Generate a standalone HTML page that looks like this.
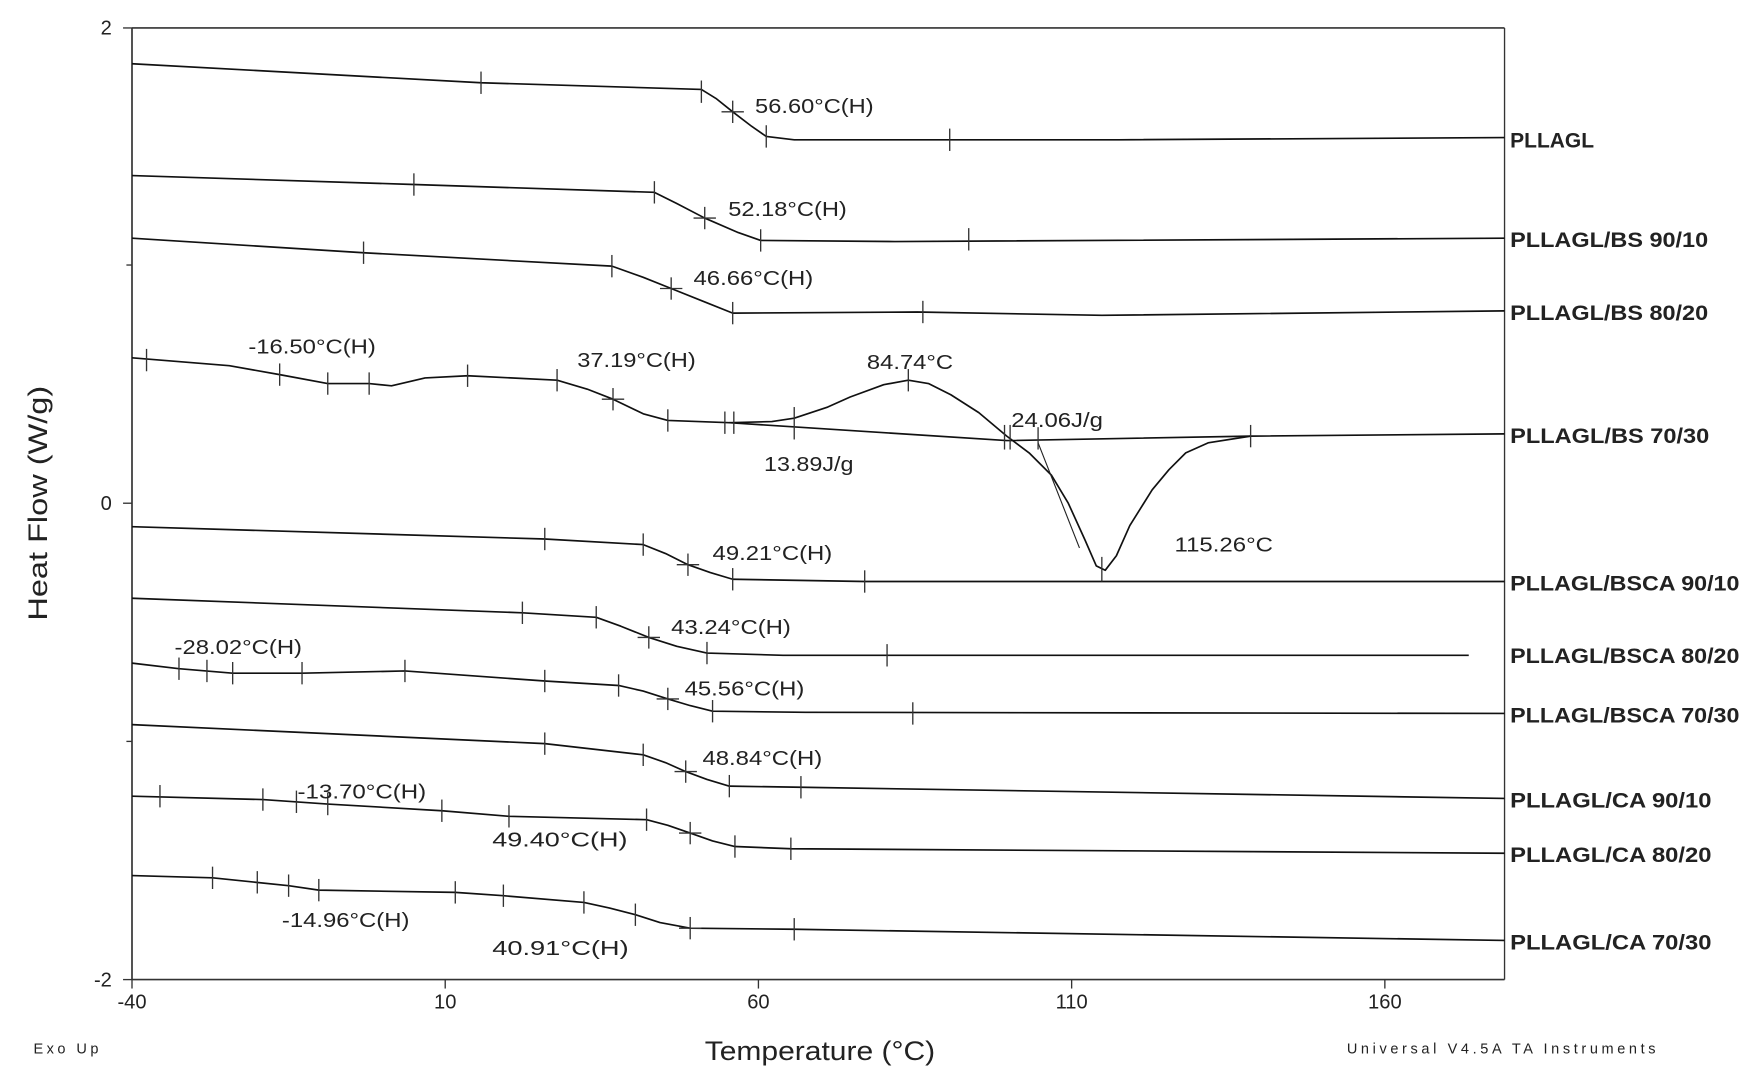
<!DOCTYPE html>
<html><head><meta charset="utf-8"><style>
html,body{margin:0;padding:0;background:#fff;}
svg{display:block;}
text{font-family:"Liberation Sans",Arial,sans-serif;fill:#222;}
.lb{font-weight:bold;font-size:19px;}
.an{font-size:18px;}
.c{fill:none;stroke:#111;stroke-width:1.5;stroke-linejoin:round;}
.t{stroke:#333;stroke-width:1.2;}
</style></head><body>
<svg width="1754" height="1078" viewBox="0 0 1568 964" preserveAspectRatio="none">
<line x1="118" y1="25" x2="1345" y2="25" stroke="#333" stroke-width="1.5"/>
<line x1="118" y1="25" x2="118" y2="876" stroke="#333" stroke-width="1.5"/>
<line x1="118" y1="876" x2="1345" y2="876" stroke="#333" stroke-width="1.5"/>
<line x1="1345" y1="25" x2="1345" y2="876" stroke="#333" stroke-width="1.2"/>
<g stroke="#333" stroke-width="1.2">
<line x1="110" y1="25" x2="118" y2="25"/><line x1="113" y1="237" x2="118" y2="237"/>
<line x1="110" y1="450" x2="118" y2="450"/><line x1="113" y1="663" x2="118" y2="663"/>
<line x1="110" y1="876" x2="118" y2="876"/>
<line x1="118" y1="876" x2="118" y2="884"/><line x1="398" y1="876" x2="398" y2="884"/>
<line x1="678" y1="876" x2="678" y2="884"/><line x1="958" y1="876" x2="958" y2="884"/>
<line x1="1238" y1="876" x2="1238" y2="884"/>
</g>
<g font-size="18">
<text x="100" y="31" text-anchor="end">2</text>
<text x="100" y="456" text-anchor="end">0</text>
<text x="100" y="882" text-anchor="end">-2</text>
<text x="118" y="902" text-anchor="middle">-40</text>
<text x="398" y="902" text-anchor="middle">10</text>
<text x="678" y="902" text-anchor="middle">60</text>
<text x="958" y="902" text-anchor="middle">110</text>
<text x="1238" y="902" text-anchor="middle">160</text>
</g>
<text x="630" y="948" font-size="24" textLength="206" lengthAdjust="spacingAndGlyphs">Temperature (°C)</text>
<text transform="translate(42,555) rotate(-90)" font-size="24" textLength="210" lengthAdjust="spacingAndGlyphs">Heat Flow (W/g)</text>
<text x="30" y="942" font-size="13" textLength="58" lengthAdjust="spacing">Exo Up</text>
<text x="1204" y="942" font-size="13" textLength="276" lengthAdjust="spacing">Universal V4.5A TA Instruments</text>

<polyline class="c" points="118,57 430,74 627,80 640,88 655,100 672,113 685,122 710,125 1000,125 1345,123"/>
<polyline class="c" points="118,157 370,165 585,172 605,182 630,195 660,208 680,215 800,216 1345,213"/>
<polyline class="c" points="118,213 325,226 547,238 575,248 600,258 630,270 655,280 820,279 985,282 1345,278"/>
<polyline class="c" points="118,320 205,327 250,335 293,343 330,343 350,345 380,338 418,336 498,340 525,348 548,357 575,370 597,376 652,378 690,377 710,374 740,364 760,355 790,344 812,340 830,343 850,353 875,369 900,390 920,405 940,425 955,450 970,483 980,506 988,510 998,497 1010,470 1030,438 1045,420 1060,405 1080,396 1118,390 1345,388"/>
<polyline class="c" points="652,378 900,394 1118,390" stroke="#444" stroke-width="1"/>
<line x1="928" y1="396" x2="965" y2="490" stroke="#222" stroke-width="1"/>
<polyline class="c" points="118,471 487,482 575,487 595,495 615,505 635,512 655,518 773,520 1345,520"/>
<polyline class="c" points="118,535 467,548 533,552 555,560 580,570 605,578 632,584 700,586 1313,586"/>
<polyline class="c" points="118,593 160,598 208,602 270,602 362,600 487,609 553,613 575,618 597,625 617,631 637,636 720,637 1345,638"/>
<polyline class="c" points="118,648 487,665 575,675 595,682 613,690 632,697 652,703 716,704 1345,714"/>
<polyline class="c" points="118,712 235,715 293,719 395,725 455,730 578,733 597,738 617,745 637,752 657,757 707,759 1345,763"/>
<polyline class="c" points="118,783 190,785 258,792 285,796 407,798 450,801 522,807 545,812 568,818 590,825 617,830 710,831 1345,841"/>

<g class="t">
<line x1="430" y1="64" x2="430" y2="84"/><line x1="627" y1="72" x2="627" y2="92"/><line x1="655" y1="90" x2="655" y2="110"/><line x1="645" y1="100" x2="665" y2="100"/><line x1="685" y1="112" x2="685" y2="132"/><line x1="849" y1="115" x2="849" y2="135"/>
<line x1="370" y1="155" x2="370" y2="175"/><line x1="585" y1="162" x2="585" y2="182"/><line x1="630" y1="185" x2="630" y2="205"/><line x1="620" y1="195" x2="640" y2="195"/><line x1="680" y1="205" x2="680" y2="225"/><line x1="866" y1="204" x2="866" y2="224"/>
<line x1="325" y1="216" x2="325" y2="236"/><line x1="547" y1="228" x2="547" y2="248"/><line x1="600" y1="248" x2="600" y2="268"/><line x1="590" y1="258" x2="610" y2="258"/><line x1="655" y1="270" x2="655" y2="290"/><line x1="825" y1="269" x2="825" y2="289"/>
<line x1="131" y1="312" x2="131" y2="332"/><line x1="250" y1="325" x2="250" y2="345"/><line x1="293" y1="333" x2="293" y2="353"/><line x1="330" y1="333" x2="330" y2="353"/><line x1="418" y1="326" x2="418" y2="346"/><line x1="498" y1="330" x2="498" y2="350"/><line x1="548" y1="347" x2="548" y2="367"/><line x1="538" y1="357" x2="558" y2="357"/><line x1="597" y1="366" x2="597" y2="386"/><line x1="648" y1="368" x2="648" y2="388"/><line x1="656" y1="368" x2="656" y2="388"/><line x1="710" y1="364" x2="710" y2="393"/><line x1="812" y1="330" x2="812" y2="350"/><line x1="898" y1="380" x2="898" y2="402"/><line x1="903" y1="380" x2="903" y2="402"/><line x1="928" y1="382" x2="928" y2="402"/><line x1="985" y1="498" x2="985" y2="520"/><line x1="1118" y1="380" x2="1118" y2="400"/>
<line x1="487" y1="472" x2="487" y2="492"/><line x1="575" y1="477" x2="575" y2="497"/><line x1="615" y1="495" x2="615" y2="515"/><line x1="605" y1="505" x2="625" y2="505"/><line x1="655" y1="508" x2="655" y2="528"/><line x1="773" y1="510" x2="773" y2="530"/>
<line x1="467" y1="538" x2="467" y2="558"/><line x1="533" y1="542" x2="533" y2="562"/><line x1="580" y1="560" x2="580" y2="580"/><line x1="570" y1="570" x2="590" y2="570"/><line x1="632" y1="574" x2="632" y2="594"/><line x1="793" y1="576" x2="793" y2="596"/>
<line x1="160" y1="588" x2="160" y2="608"/><line x1="185" y1="590" x2="185" y2="610"/><line x1="208" y1="592" x2="208" y2="612"/><line x1="270" y1="592" x2="270" y2="612"/><line x1="362" y1="590" x2="362" y2="610"/><line x1="487" y1="599" x2="487" y2="619"/><line x1="553" y1="603" x2="553" y2="623"/><line x1="597" y1="615" x2="597" y2="635"/><line x1="587" y1="625" x2="607" y2="625"/><line x1="637" y1="626" x2="637" y2="646"/><line x1="816" y1="628" x2="816" y2="648"/>
<line x1="487" y1="655" x2="487" y2="675"/><line x1="575" y1="665" x2="575" y2="685"/><line x1="613" y1="680" x2="613" y2="700"/><line x1="603" y1="690" x2="623" y2="690"/><line x1="652" y1="693" x2="652" y2="713"/><line x1="716" y1="694" x2="716" y2="714"/>
<line x1="143" y1="702" x2="143" y2="722"/><line x1="235" y1="705" x2="235" y2="725"/><line x1="265" y1="707" x2="265" y2="727"/><line x1="293" y1="709" x2="293" y2="729"/><line x1="395" y1="715" x2="395" y2="735"/><line x1="455" y1="720" x2="455" y2="740"/><line x1="578" y1="723" x2="578" y2="743"/><line x1="617" y1="735" x2="617" y2="755"/><line x1="607" y1="745" x2="627" y2="745"/><line x1="657" y1="747" x2="657" y2="767"/><line x1="707" y1="749" x2="707" y2="769"/>
<line x1="190" y1="775" x2="190" y2="795"/><line x1="230" y1="779" x2="230" y2="799"/><line x1="258" y1="782" x2="258" y2="802"/><line x1="285" y1="786" x2="285" y2="806"/><line x1="407" y1="788" x2="407" y2="808"/><line x1="450" y1="791" x2="450" y2="811"/><line x1="522" y1="797" x2="522" y2="817"/><line x1="568" y1="808" x2="568" y2="828"/><line x1="617" y1="820" x2="617" y2="840"/><line x1="607" y1="830" x2="627" y2="830"/><line x1="710" y1="821" x2="710" y2="841"/>
</g>

<g class="an">
<text x="675" y="101" textLength="106" lengthAdjust="spacingAndGlyphs">56.60°C(H)</text>
<text x="651" y="193" textLength="106" lengthAdjust="spacingAndGlyphs">52.18°C(H)</text>
<text x="620" y="255" textLength="107" lengthAdjust="spacingAndGlyphs">46.66°C(H)</text>
<text x="222" y="316" textLength="114" lengthAdjust="spacingAndGlyphs">-16.50°C(H)</text>
<text x="516" y="328" textLength="106" lengthAdjust="spacingAndGlyphs">37.19°C(H)</text>
<text x="775" y="330" textLength="77" lengthAdjust="spacingAndGlyphs">84.74°C</text>
<text x="904" y="382" textLength="82" lengthAdjust="spacingAndGlyphs">24.06J/g</text>
<text x="683" y="421" textLength="80" lengthAdjust="spacingAndGlyphs">13.89J/g</text>
<text x="1050" y="493" textLength="88" lengthAdjust="spacingAndGlyphs">115.26°C</text>
<text x="637" y="501" textLength="107" lengthAdjust="spacingAndGlyphs">49.21°C(H)</text>
<text x="600" y="567" textLength="107" lengthAdjust="spacingAndGlyphs">43.24°C(H)</text>
<text x="156" y="585" textLength="114" lengthAdjust="spacingAndGlyphs">-28.02°C(H)</text>
<text x="612" y="622" textLength="107" lengthAdjust="spacingAndGlyphs">45.56°C(H)</text>
<text x="628" y="684" textLength="107" lengthAdjust="spacingAndGlyphs">48.84°C(H)</text>
<text x="266" y="714" textLength="115" lengthAdjust="spacingAndGlyphs">-13.70°C(H)</text>
<text x="440" y="757" textLength="121" lengthAdjust="spacingAndGlyphs">49.40°C(H)</text>
<text x="252" y="829" textLength="114" lengthAdjust="spacingAndGlyphs">-14.96°C(H)</text>
<text x="440" y="854" textLength="122" lengthAdjust="spacingAndGlyphs">40.91°C(H)</text>
</g>

<g class="lb">
<text x="1350" y="132" textLength="75" lengthAdjust="spacingAndGlyphs">PLLAGL</text>
<text x="1350" y="221" textLength="177" lengthAdjust="spacingAndGlyphs">PLLAGL/BS 90/10</text>
<text x="1350" y="286" textLength="177" lengthAdjust="spacingAndGlyphs">PLLAGL/BS 80/20</text>
<text x="1350" y="396" textLength="178" lengthAdjust="spacingAndGlyphs">PLLAGL/BS 70/30</text>
<text x="1350" y="528" textLength="205" lengthAdjust="spacingAndGlyphs">PLLAGL/BSCA 90/10</text>
<text x="1350" y="593" textLength="205" lengthAdjust="spacingAndGlyphs">PLLAGL/BSCA 80/20</text>
<text x="1350" y="646" textLength="205" lengthAdjust="spacingAndGlyphs">PLLAGL/BSCA 70/30</text>
<text x="1350" y="722" textLength="180" lengthAdjust="spacingAndGlyphs">PLLAGL/CA 90/10</text>
<text x="1350" y="771" textLength="180" lengthAdjust="spacingAndGlyphs">PLLAGL/CA 80/20</text>
<text x="1350" y="849" textLength="180" lengthAdjust="spacingAndGlyphs">PLLAGL/CA 70/30</text>
</g>
</svg>
</body></html>
